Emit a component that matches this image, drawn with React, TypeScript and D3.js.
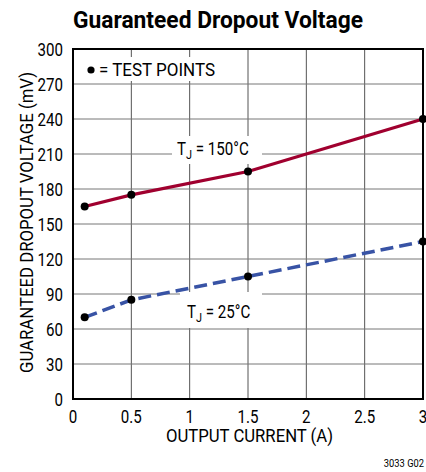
import React from "react";
import * as d3 from "d3";

const xTicks = [0, 0.5, 1, 1.5, 2, 2.5, 3];
const yTicks = [0, 30, 60, 90, 120, 150, 180, 210, 240, 270, 300];
const currents = [0.1, 0.5, 1.5, 3];
const hot150 = [165, 175, 195, 240];
const room25 = [70, 85, 105, 135];

const W = 426, H = 472;
const L = 73, R = 423, T = 49, B = 399;
const FONT = "Roboto, 'Liberation Sans', sans-serif";
const SX = 0.84;

function NText({ x, y, anchor = "start", size = 18, children, weight }: any) {
  return (
    <text
      transform={`translate(${x},${y}) scale(${SX},1)`}
      textAnchor={anchor}
      fontSize={size}
      fontWeight={weight}
      fill="#000"
    >
      {children}
    </text>
  );
}

export default function App() {
  const x = d3.scaleLinear().domain([0, 3]).range([L, R]);
  const y = d3.scaleLinear().domain([0, 300]).range([B, T]);
  const line = d3.line<number>().x((_, i) => x(currents[i])).y((d) => y(d));

  return (
    <svg width={W} height={H} style={{ position: "absolute", left: 0, top: 0, background: "#fff" }} fontFamily={FONT}>
      <text x={L} y={28} fontSize={24} fontWeight="bold" textLength={290} lengthAdjust="spacingAndGlyphs" fill="#000">
        Guaranteed Dropout Voltage
      </text>
      {xTicks.slice(1, -1).map((t) => (
        <line key={"vx" + t} x1={x(t)} x2={x(t)} y1={T} y2={B} stroke="#555" strokeWidth={1} />
      ))}
      {yTicks.slice(1, -1).map((t) => (
        <line key={"hy" + t} x1={L} x2={R} y1={y(t)} y2={y(t)} stroke="#777" strokeWidth={1} />
      ))}
      <rect x={81} y={57} width={138} height={24} fill="#fff" />
      <rect x={172} y={136} width={90} height={28} fill="#fff" />
      <rect x={180} y={292} width={82} height={36} fill="#fff" />
      <rect x={L} y={T} width={R - L} height={B - T} fill="none" stroke="#000" strokeWidth={2} />
      <path d={line(hot150) || ""} fill="none" stroke="#a0002f" strokeWidth={3.2} />
      <path d={line(room25) || ""} fill="none" stroke="#3853a5" strokeWidth={3.5} strokeDasharray="13,6" />
      {currents.map((c, i) => (
        <circle key={"h" + i} cx={x(c)} cy={y(hot150[i])} r={4} fill="#000" />
      ))}
      {currents.map((c, i) => (
        <circle key={"r" + i} cx={x(c)} cy={y(room25[i])} r={4} fill="#000" />
      ))}
      <circle cx={91} cy={70} r={3.6} fill="#000" />
      <text x={99} y={76} fontSize={18} textLength={116} lengthAdjust="spacingAndGlyphs" fill="#000">= TEST POINTS</text>
      <NText x={177} y={155}>
        T<tspan fontSize={13} dy={4}>J</tspan><tspan dy={-4}> = 150°C</tspan>
      </NText>
      <NText x={187} y={318}>
        T<tspan fontSize={13} dy={4}>J</tspan><tspan dy={-4}> = 25°C</tspan>
      </NText>
      {yTicks.map((t) => (
        <NText key={"yl" + t} x={63} y={y(t) + 6.5} anchor="end">
          {t}
        </NText>
      ))}
      {xTicks.map((t) => (
        <NText key={"xl" + t} x={x(t)} y={423} anchor="middle">
          {t}
        </NText>
      ))}
      <text x={166} y={442} fontSize={17.5} textLength={167} lengthAdjust="spacingAndGlyphs" fill="#000">OUTPUT CURRENT (A)</text>
      <text transform={`translate(33,373) rotate(-90)`} fontSize={18} textLength={301} lengthAdjust="spacingAndGlyphs" fill="#000">
        GUARANTEED DROPOUT VOLTAGE (mV)
      </text>
      <text x={424} y={467} textAnchor="end" fontSize={11} fill="#000" transform="translate(424,0) scale(0.85,1) translate(-424,0)">3033 G02</text>
    </svg>
  );
}
